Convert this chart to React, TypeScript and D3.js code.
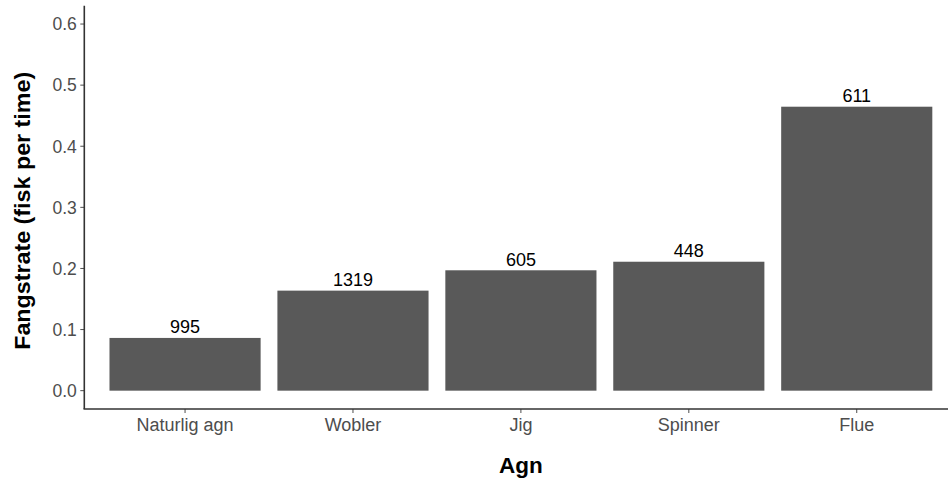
import React from "react";
import * as d3 from "d3";

const categories = ["Naturlig agn", "Wobler", "Jig", "Spinner", "Flue"];
const rates = [0.0863, 0.1637, 0.197, 0.211, 0.4647];
const counts = ["995", "1319", "605", "448", "611"];
const yTicks = [0, 0.1, 0.2, 0.3, 0.4, 0.5, 0.6];

const W = 948;
const H = 482;
const panel = { left: 84.3, top: 5.7, bottom: 409, right: 957.5 };

export default function App() {
  const x = d3
    .scaleBand<string>()
    .domain(categories)
    .range([panel.left, panel.right])
    .paddingInner(0.1)
    .paddingOuter(0.15);
  const y = d3.scaleLinear().domain([-0.03, 0.63]).range([panel.bottom, panel.top]);
  const font = "'Liberation Sans', Arial, sans-serif";
  const axisCol = "#333333";
  const tickCol = "#4d4d4d";

  return (
    <svg
      width={W}
      height={H}
      style={{ position: "absolute", left: 0, top: 0, background: "#fff" }}
      fontFamily={font}
    >
      <rect x={0} y={0} width={W} height={H} fill="#fff" />
      {categories.map((c, i) => (
        <g key={c}>
          <rect
            x={x(c)!}
            y={y(rates[i])}
            width={x.bandwidth()}
            height={y(0) - y(rates[i])}
            fill="#595959"
          />
          <text
            x={x(c)! + x.bandwidth() / 2}
            y={y(rates[i]) - 4.5}
            textAnchor="middle"
            fontSize={18}
            fill="#000"
          >
            {counts[i]}
          </text>
          <line
            x1={x(c)! + x.bandwidth() / 2}
            x2={x(c)! + x.bandwidth() / 2}
            y1={panel.bottom}
            y2={panel.bottom + 4}
            stroke={tickCol}
            strokeWidth={1}
          />
          <text
            x={x(c)! + x.bandwidth() / 2}
            y={430.5}
            textAnchor="middle"
            fontSize={18}
            fill={tickCol}
          >
            {c}
          </text>
        </g>
      ))}
      {yTicks.map((t) => (
        <g key={t}>
          <line
            x1={panel.left - 4}
            x2={panel.left}
            y1={y(t)}
            y2={y(t)}
            stroke={tickCol}
            strokeWidth={1}
          />
          <text
            x={panel.left - 7.5}
            y={y(t)}
            dy="0.36em"
            textAnchor="end"
            fontSize={17.5}
            fill={tickCol}
          >
            {t.toFixed(1)}
          </text>
        </g>
      ))}
      <line x1={panel.left} x2={panel.left} y1={panel.top} y2={panel.bottom} stroke={axisCol} strokeWidth={1.6} />
      <line x1={panel.left - 0.8} x2={W} y1={panel.bottom} y2={panel.bottom} stroke={axisCol} strokeWidth={1.6} />
      <text
        x={(panel.left + panel.right) / 2}
        y={472.7}
        textAnchor="middle"
        fontSize={22.5}
        fontWeight="bold"
        fill="#000"
      >
        Agn
      </text>
      <text
        transform={`translate(29.5, 210.8) rotate(-90)`}
        textAnchor="middle"
        fontSize={22.5}
        fontWeight="bold"
        fill="#000"
        textLength={278}
        lengthAdjust="spacingAndGlyphs"
      >
        Fangstrate (fisk per time)
      </text>
    </svg>
  );
}
